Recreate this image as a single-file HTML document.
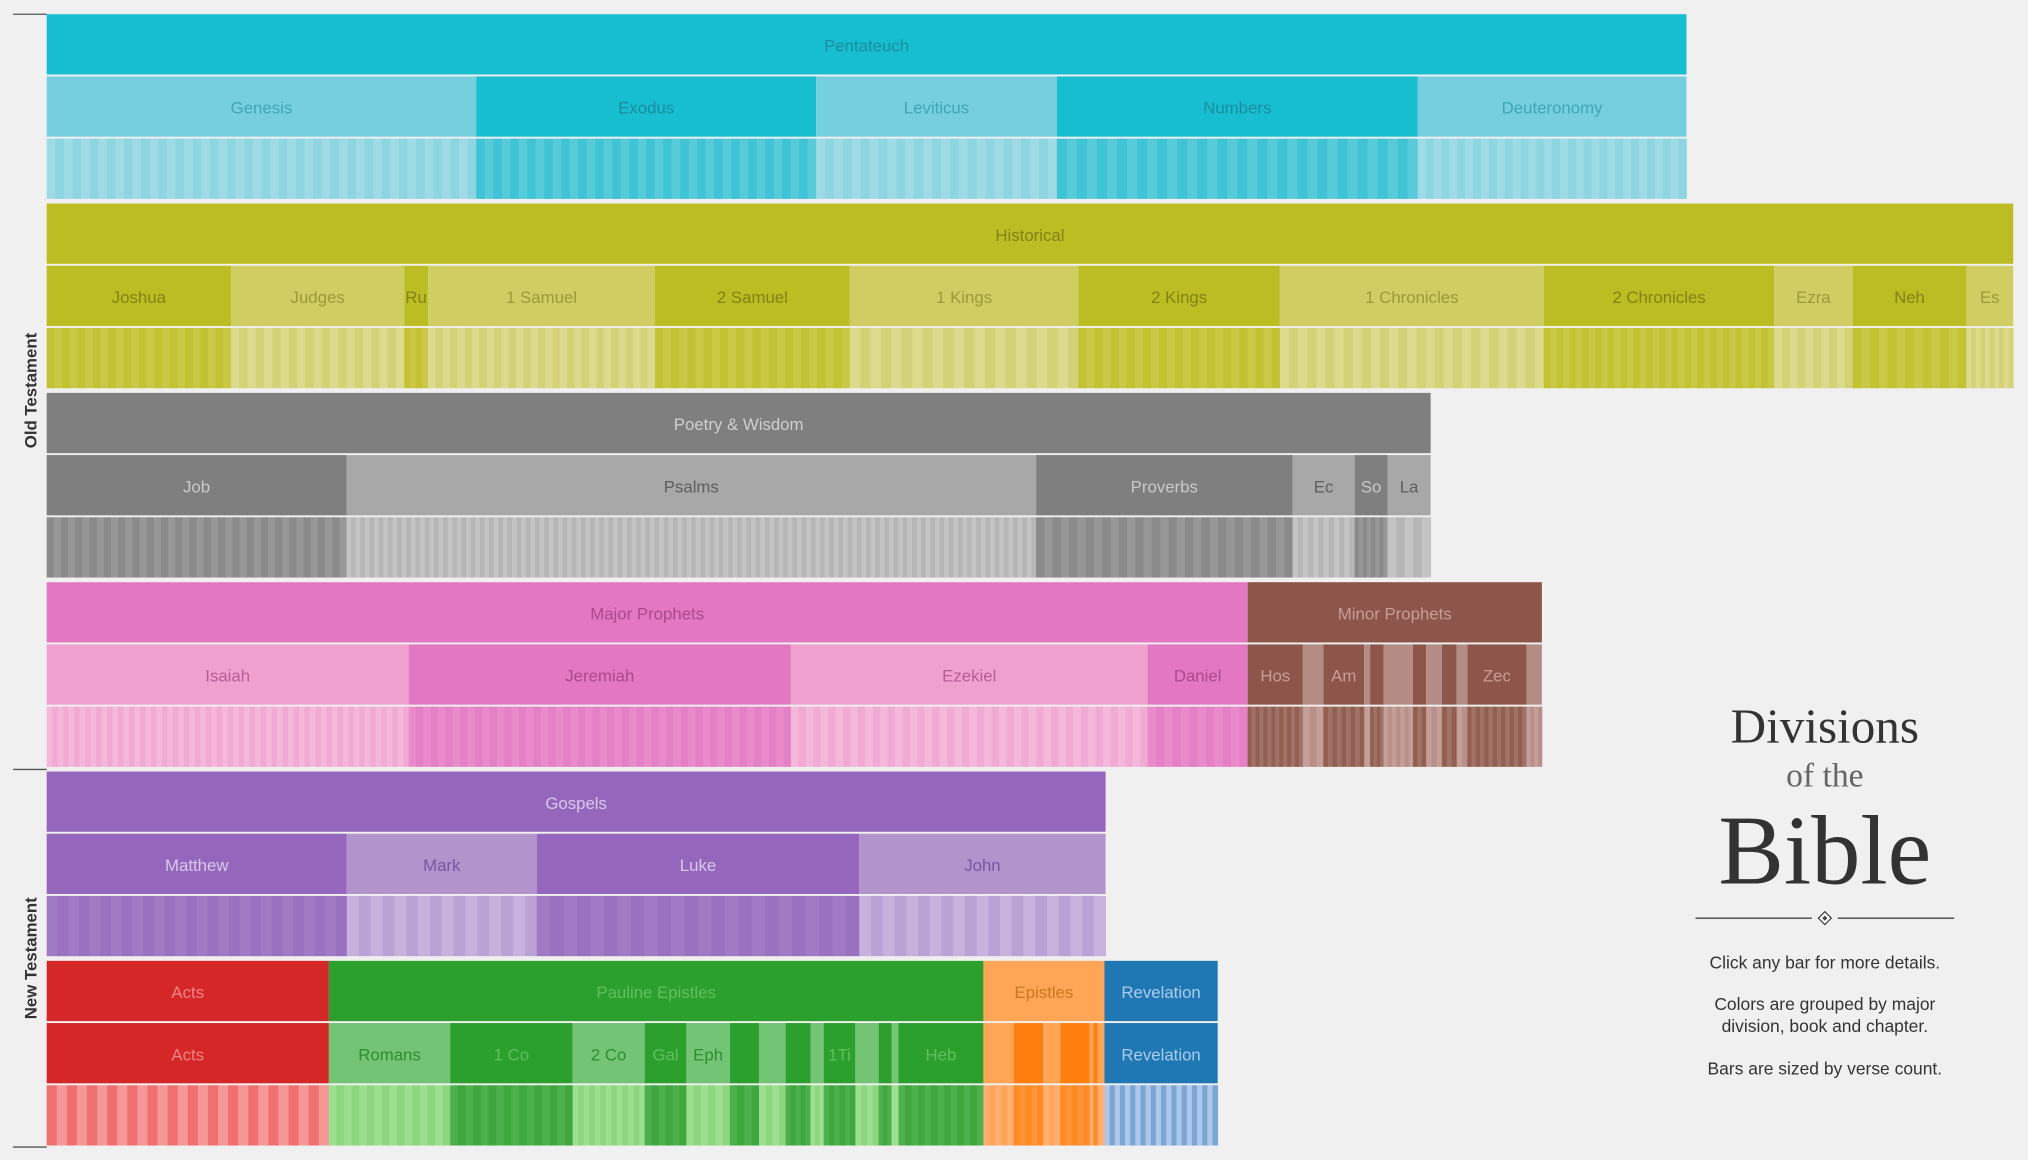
<!DOCTYPE html>
<html><head><meta charset="utf-8"><style>
html,body{margin:0;padding:0;background:#f0f0f0;}
svg{display:block;}
</style></head>
<body>
<svg id="chart" width="2028" height="1160" viewBox="0 0 1568 897" xmlns="http://www.w3.org/2000/svg">
<rect x="0" y="0" width="1568" height="897" fill="#f0f0f0"/>
<g id="marks"></g>
<g stroke="#555" stroke-width="1">
<line x1="10" y1="11" x2="36" y2="11"/><line x1="10" y1="595" x2="36" y2="595"/><line x1="10" y1="887" x2="36" y2="887"/>
</g>
<text transform="translate(28,302) rotate(-90)" text-anchor="middle" font-family="Liberation Sans, sans-serif" font-weight="bold" font-size="13" fill="#333">Old Testament</text>
<text transform="translate(28,741) rotate(-90)" text-anchor="middle" font-family="Liberation Sans, sans-serif" font-weight="bold" font-size="13" fill="#333">New Testament</text>
<g font-family="Liberation Serif, serif" text-anchor="middle">
<text x="1411" y="574" font-size="38" fill="#333">Divisions</text>
<text x="1411" y="608" font-size="26" fill="#666">of the</text>
<text x="1411" y="683" font-size="76" fill="#333">Bible</text>
<line x1="1311" y1="710" x2="1401" y2="710" stroke="#444" stroke-width="1"/>
<line x1="1421" y1="710" x2="1511" y2="710" stroke="#444" stroke-width="1"/>
<path d="M1411 705 L1416 710 L1411 715 L1406 710 Z" fill="#fff" stroke="#444" stroke-width="1"/>
<path d="M1411 708 L1413 710 L1411 712 L1409 710 Z" fill="#444"/>
</g>
<g font-family="Liberation Sans, sans-serif" font-size="13.5" fill="#333" text-anchor="middle">
<text x="1411" y="749">Click any bar for more details.</text>
<text x="1411" y="781">Colors are grouped by major</text>
<text x="1411" y="798">division, book and chapter.</text>
<text x="1411" y="831">Bars are sized by verse count.</text>
</g>
</svg>
<script>
// ---- data ----
const pentBooks = ["Genesis","Exodus","Leviticus","Numbers","Deuteronomy"];
const pentVerses = [1533,1213,859,1288,959];
const pentChapters = [50,40,27,36,34];
const histBooks = ["Joshua","Judges","Ru","1 Samuel","2 Samuel","1 Kings","2 Kings","1 Chronicles","2 Chronicles","Ezra","Neh","Es"];
const histVerses = [658,618,85,810,695,816,719,942,822,280,406,167];
const histChapters = [24,21,4,31,24,22,25,29,36,10,13,10];
const poetBooks = ["Job","Psalms","Proverbs","Ec","So","La"];
const poetVerses = [1070,2461,915,222,117,154];
const poetChapters = [42,150,31,12,8,5];
const majBooks = ["Isaiah","Jeremiah","Ezekiel","Daniel"];
const majVerses = [1292,1364,1273,357];
const majChapters = [66,52,48,12];
const minBooks = ["Hos","","Am","","","","","","","","Zec",""];
const minVerses = [197,73,146,21,48,105,47,56,53,38,211,55];
const minChapters = [14,3,9,1,4,7,3,3,3,2,14,4];
const gospBooks = ["Matthew","Mark","Luke","John"];
const gospVerses = [1071,678,1151,879];
const gospChapters = [28,16,24,21];
const actsBooks = ["Acts"];
const actsVerses = [1007];
const actsChapters = [28];
const paulBooks = ["Romans","1 Co","2 Co","Gal","Eph","","","","","1Ti","","","","Heb"];
const paulVerses = [433,437,257,149,155,104,95,89,47,113,83,46,25,303];
const paulChapters = [16,16,13,6,6,4,4,5,3,6,4,3,1,13];
const epiBooks = ["","","","","","",""];
const epiVerses = [108,105,61,105,13,15,25];
const epiChapters = [5,5,3,5,1,1,1];
const revBooks = ["Revelation"];
const revVerses = [404];
const revChapters = [22];

const groups = [
 {row:0,name:"Pentateuch",books:pentBooks,verses:pentVerses,ch:pentChapters,startDark:false,c:{g:"#17becf",d:"#17becf",l:"#76cfde",cd:["#3fc4d5","#58cbda"],cl:["#9fdbe6","#8dd5e1"],td:"#1a8ea0",tl:"#3ea6b6",tg:"#1a8ea0"}},
 {row:1,name:"Historical",books:histBooks,verses:histVerses,ch:histChapters,startDark:true,c:{g:"#bcbd22",d:"#bcbd22",l:"#d0ce62",cd:["#c2c232","#c9c847"],cl:["#dcda8c","#d4d277"],td:"#828215",tl:"#9a9a3a",tg:"#828215"}},
 {row:2,name:"Poetry & Wisdom",books:poetBooks,verses:poetVerses,ch:poetChapters,startDark:true,c:{g:"#7f7f7f",d:"#7f7f7f",l:"#a8a8a8",cd:["#8a8a8a","#979797"],cl:["#c4c4c4","#b6b6b6"],td:"#c9c9c9",tl:"#5e5e5e",tg:"#d0d0d0"}},
 {row:3,name:"Major Prophets",books:majBooks,verses:majVerses,ch:majChapters,startDark:false,c:{g:"#e377c2",d:"#e377c2",l:"#f0a0cf",cd:["#e98bcb","#e480c6"],cl:["#f5b8db","#f1aad4"],td:"#a94b8a",tl:"#b65e98",tg:"#a94b8a"}},
 {row:3,name:"Minor Prophets",books:minBooks,verses:minVerses,ch:minChapters,startDark:true,c:{g:"#8c564b",d:"#8c564b",l:"#b58c84",cd:["#93604f","#a0736a"],cl:["#c49f97","#b8908a"],td:"#c99d94",tl:"#c99d94",tg:"#c99d94"}},
 {row:4,name:"Gospels",books:gospBooks,verses:gospVerses,ch:gospChapters,startDark:true,c:{g:"#9467bd",d:"#9467bd",l:"#b294cc",cd:["#a07ac5","#9a71c1"],cl:["#c8b2dd","#bba2d5"],td:"#d9c8ea",tl:"#7a55a0",tg:"#d9c8ea"}},
 {row:5,name:"Acts",books:actsBooks,verses:actsVerses,ch:actsChapters,startDark:true,c:{g:"#d62728",d:"#d62728",l:"#e66",cd:["#f07070","#f59797"],cl:["#f07070","#f59797"],td:"#f08585",tl:"#f08585",tg:"#f08585"}},
 {row:5,name:"Pauline Epistles",books:paulBooks,verses:paulVerses,ch:paulChapters,startDark:false,c:{g:"#2ca02c",d:"#2ca02c",l:"#74c476",cd:["#4cb04c","#3ea73e"],cl:["#9cdf8f","#8ed57f"],td:"#5fbf5f",tl:"#2d8f2d",tg:"#5fc05f"}},
 {row:5,name:"Epistles",books:epiBooks,verses:epiVerses,ch:epiChapters,startDark:false,c:{g:"#ffa556",d:"#ff7f0e",l:"#ffa556",cd:["#ff8a22","#ff9438"],cl:["#ffb070","#ffa55a"],td:"#c77a1d",tl:"#c77a1d",tg:"#c77a1d"}},
 {row:5,name:"Revelation",books:revBooks,verses:revVerses,ch:revChapters,startDark:true,c:{g:"#1f77b4",d:"#1f77b4",l:"#1f77b4",cd:["#aec7e8","#7aa6d6"],cl:["#aec7e8","#7aa6d6"],td:"#a9cdea",tl:"#a9cdea",tg:"#a9cdea"}}
];
// ---- scales ----
const X0 = 36, K = 1268/5852;
const xScale = v => X0 + v*K;
const yBlock = r => 11 + r*146.4;
const STRIP = 46.6, STEP = 48.1;
const NS = "http://www.w3.org/2000/svg";
const marks = document.getElementById('marks');
function mk(tag, attrs, parent){const e=document.createElementNS(NS,tag);for(const k in attrs)e.setAttribute(k,attrs[k]);parent.appendChild(e);return e;}
const rowOffset = {};
groups.forEach((g,gi)=>{
  const startV = rowOffset[g.row]||0;
  const total = g.verses.reduce((a,b)=>a+b,0);
  rowOffset[g.row] = startV + total;
  const y = yBlock(g.row);
  const gx = xScale(startV), gw = total*K;
  const gEl = mk('g',{},marks);
  
  
  const gr = mk('rect',{x:gx,y:y,width:gw,height:STRIP,fill:g.c.g},gEl);
  
  
  const gt = mk('text',{x:gx+gw/2,y:y+STRIP/2+5.5,'text-anchor':'middle','font-family':'Liberation Sans, sans-serif','font-size':'13',fill:g.c.tg},gEl);
  gt.textContent = g.name;
  
  
  let cum = startV;
  g.verses.forEach((v,bi)=>{
    const dark = (bi%2===0) === g.startDark;
    const bx = xScale(cum), bw = v*K;
    const br = mk('rect',{x:bx,y:y+STEP,width:bw,height:STRIP,fill:dark?g.c.d:g.c.l},gEl);
    
    
    if(g.books[bi]){
      const bt = mk('text',{x:bx+bw/2,y:y+STEP+STRIP/2+5.5,'text-anchor':'middle','font-family':'Liberation Sans, sans-serif','font-size':'13',fill:dark?g.c.td:g.c.tl},gEl);
      bt.textContent = g.books[bi];
      
      
    }
    const n = g.ch[bi], cw = bw/n;
    const pal = dark?g.c.cd:g.c.cl;
    for(let c=0;c<n;c++){
      const cr = mk('rect',{x:bx+c*cw,y:y+2*STEP,width:cw+0.3,height:STRIP,fill:pal[c%2]},gEl);
      
      
    }
    cum += v;
  });
});
</script>
</body></html>
